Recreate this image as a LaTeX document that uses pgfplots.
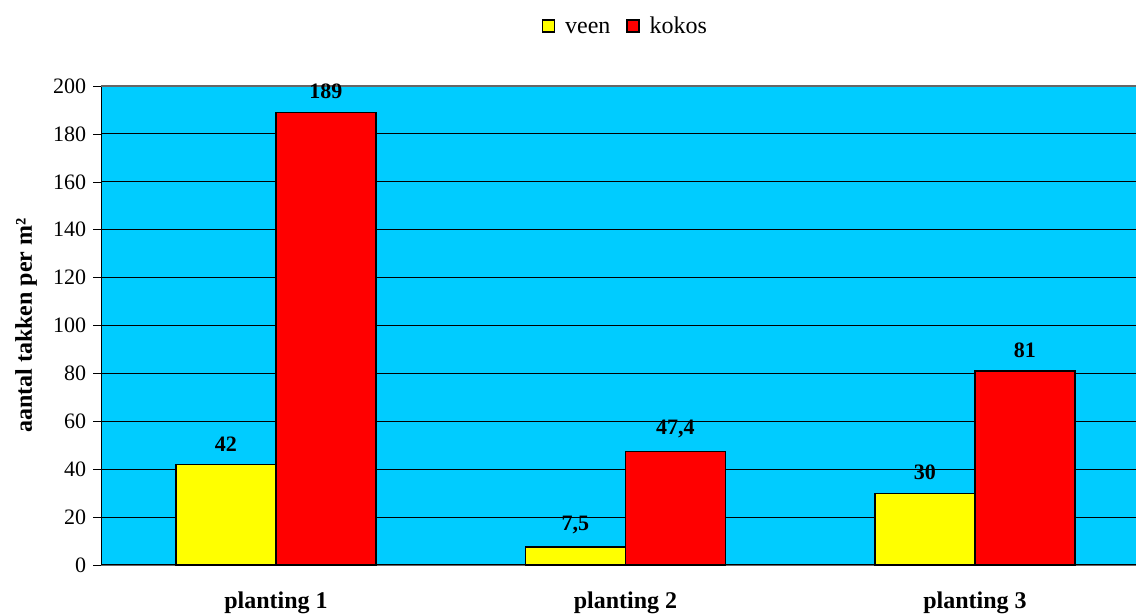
\documentclass[border=0pt]{standalone}
\usepackage{pgfplots}
\pgfplotsset{compat=1.18}
\usepackage{fontspec}
\setmainfont{Liberation Serif}
\definecolor{bgcyan}{HTML}{00CCFF}
\definecolor{baryellow}{HTML}{FFFF00}
\definecolor{barred}{HTML}{FF0000}
\begin{document}
\begin{tikzpicture}
\useasboundingbox (0,0) rectangle (568pt,307.5pt);
\begin{axis}[
  at={(50.6pt,25pt)}, anchor=south west,
  scale only axis, width=524.25pt, height=239.5pt,
  xmin=-0.5, xmax=2.5, ymin=0, ymax=200,
  ybar=0pt, bar width=0.286,
  axis x line*=bottom, axis y line*=left,
  x axis line style={draw=gray!80!black, -}, y axis line style={draw=black, -},
  axis background/.style={fill=bgcyan},
  ymajorgrids, major grid style={black, line width=0.5pt},
  ytick={0,20,...,200},
  tick align=outside, major tick length=4pt, minor tick length=4pt,
  xtick={0,1,2}, xticklabels={planting 1, planting 2, planting 3},
  xtick style={draw=none},
  minor xtick={-0.5,0.5,1.5,2.5},
  minor x tick style={gray!80!black},
  ytick style={black},
  /pgf/number format/assume math mode=true,
  yticklabel style={font=\fontsize{11}{13}\selectfont},
  xticklabel style={font=\fontsize{12}{14}\selectfont\bfseries, yshift=-6pt},
  every axis y label/.style={at={(axis description cs:0,0.5)}, xshift=-37.5pt, rotate=90, anchor=center, font=\fontsize{12}{14}\selectfont\bfseries},
  ylabel={aantal takken per m²},
  legend style={at={(axis description cs:0.501,1)}, anchor=center, yshift=29pt, draw=none, fill=none, font=\fontsize{12}{14}\selectfont,
    nodes={text height=8.5pt, text depth=2.5pt},
    /tikz/every odd column/.append style={column sep=3pt},
    /tikz/every even column/.append style={column sep=6pt}},
  legend columns=2,
  legend image code/.code={\draw[#1, draw=black, line width=0.6pt] (0pt,-2pt) rectangle (6pt,4pt);},
  nodes near coords={\pgfplotspointmeta},
  point meta=explicit symbolic,
  every node near coord/.append style={font=\fontsize{11}{13}\selectfont\bfseries, yshift=3pt, black},
  clip=false,
]
\addplot[fill=baryellow, draw=black, line width=0.6pt] coordinates {(0,42)[42] (1,7.5)[7,5] (2,30)[30]};
\addplot[fill=barred, draw=black, line width=0.6pt] coordinates {(0,189)[189] (1,47.4)[47,4] (2,81)[81]};
\legend{veen, kokos}
\draw[gray!80!black, line width=0.8pt] (rel axis cs:0,1) -- (rel axis cs:1,1);
\end{axis}
\end{tikzpicture}
\end{document}
